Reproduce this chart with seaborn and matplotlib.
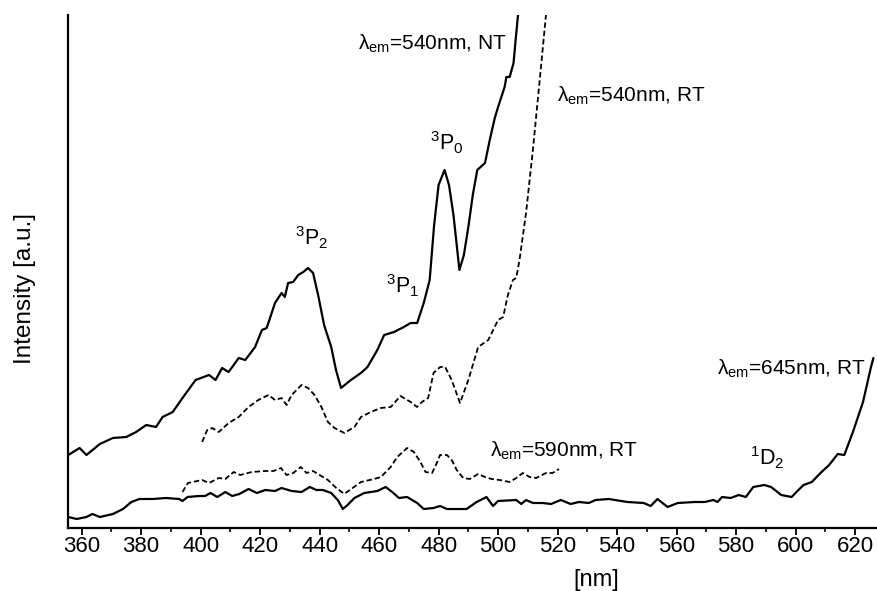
import matplotlib
matplotlib.use("Agg")
import matplotlib.pyplot as plt
import seaborn as sns
import pandas as pd

# ---------------- data ----------------
nt540_x = [355.5, 359.3, 361.6, 366.1, 370.5, 375.0, 378.3, 381.7, 385.0, 387.2, 390.6, 393.9,
           398.3, 402.8, 405.0, 407.2, 409.4, 412.8, 415.0, 418.3, 420.6, 422.2, 425.0, 427.2,
           428.3, 429.4, 431.1, 432.8, 434.5, 436.1, 437.8, 439.5, 441.5, 443.9, 445.5, 447.2,
           450.5, 453.9, 456.1, 459.4, 461.7, 465.0, 468.3, 470.6, 472.8, 475.0, 477.0, 478.5,
           480.0, 482.0, 483.5, 485.0, 487.0, 488.5, 490.0, 491.5, 493.0, 495.6, 497.2, 498.9,
           500.0, 502.2, 502.8, 503.9, 505.2, 505.9, 506.7, 507.3]
nt540_y = [73, 80, 73, 84, 90, 91, 96, 103, 101, 111, 116, 130,
           148, 153, 148, 160, 156, 170, 168, 181, 198, 200, 225, 235,
           231, 245, 246, 253, 256, 260, 255, 233, 203, 181, 158, 140,
           148, 155, 161, 178, 193, 196, 201, 205, 205, 225, 248, 303,
           343, 358, 343, 313, 258, 273, 301, 333, 358, 365, 388, 410,
           421, 441, 451, 451, 465, 488, 513, 535]

rt540_x = [400.5, 402.2, 403.9, 406.1, 409.4, 412.8, 416.1, 419.4, 422.8, 425.0, 427.2, 428.9,
           430.6, 433.9, 436.1, 438.3, 440.6, 442.8, 445.0, 448.3, 451.7, 453.9, 457.2, 460.6,
           463.9, 467.2, 470.6, 472.8, 474.4, 476.5, 478.3, 480.5, 482.2, 484.4, 487.2, 490.0,
           493.3, 496.7, 500.0, 501.7, 503.3, 505.0, 506.1, 507.2, 509.4, 511.7, 513.9, 516.1, 516.6]
rt540_y = [86, 98, 100, 96, 105, 111, 121, 128, 133, 128, 130, 123,
           133, 143, 140, 133, 121, 106, 100, 95, 101, 111, 116, 120,
           121, 132, 126, 121, 126, 130, 155, 161, 161, 148, 125, 148,
           181, 188, 208, 211, 233, 248, 250, 268, 315, 378, 445, 513, 535]

rt590_x = [393.9, 395.7, 400.5, 402.8, 406.1, 408.3, 411.1, 413.3, 417.2, 421.7, 424.5, 427.0,
           428.9, 431.1, 433.7, 435.6, 437.8, 440.0, 442.8, 445.6, 448.3, 451.1, 453.9, 458.3,
           460.6, 463.9, 466.1, 469.4, 471.7, 473.9, 475.6, 477.8, 479.4, 480.5, 482.8, 484.4,
           486.1, 488.3, 490.5, 493.3, 495.6, 497.8, 500.5, 503.9, 506.1, 508.3, 510.6, 512.8,
           516.1, 518.3, 520.5]
rt590_y = [36, 45, 48, 45, 50, 49, 56, 53, 56, 57, 57, 60,
           53, 55, 61, 55, 57, 53, 48, 40, 34, 40, 46, 49,
           51, 61, 71, 80, 76, 66, 56, 55, 65, 73, 73, 68,
           58, 50, 49, 54, 51, 49, 48, 46, 50, 55, 51, 50,
           55, 55, 59]

rt645_x = [355.5, 358.3, 361.6, 363.6, 366.1, 370.5, 373.9, 376.7, 379.4, 383.9, 388.3, 392.8,
           393.9, 395.6, 399.4, 401.5, 403.3, 405.6, 408.3, 410.6, 413.0, 416.1, 418.9, 421.7,
           425.0, 427.2, 430.6, 433.9, 436.7, 438.9, 441.1, 443.9, 446.1, 447.8, 449.4, 451.7,
           455.0, 459.4, 462.2, 464.4, 466.7, 469.4, 472.8, 475.0, 478.3, 480.5, 482.8, 489.4,
           492.8, 496.1, 498.3, 500.0, 506.1, 507.8, 509.4, 511.7, 515.0, 517.8, 521.1, 524.4,
           527.2, 530.5, 532.8, 537.2, 543.5, 549.0, 551.3, 553.6, 555.3, 557.0, 560.4, 566.1,
           569.5, 572.4, 573.8, 575.3, 578.2, 580.9, 583.3, 585.8, 589.5, 591.8, 595.2, 598.7,
           600.3, 602.7, 605.5, 608.4, 611.3, 614.2, 616.4, 619.3, 622.7, 625.3, 626.2]
rt645_y = [11, 9, 11, 14, 11, 14, 19, 26, 29, 29, 30, 29,
           27, 31, 32, 32, 35, 31, 36, 32, 34, 39, 35, 38,
           37, 40, 37, 36, 41, 38, 38, 35, 28, 19, 23, 30,
           35, 37, 41, 36, 30, 31, 25, 19, 20, 22, 19, 19,
           26, 31, 22, 27, 28, 24, 28, 25, 25, 24, 28, 24,
           26, 25, 28, 29, 26, 25, 22, 29, 25, 21, 25, 26,
           26, 28, 26, 31, 30, 33, 31, 41, 43, 41, 33, 31,
           36, 43, 46, 55, 63, 74, 73, 96, 126, 160, 170]

x_ticks = [360, 380, 400, 420, 440, 460, 480, 500, 520, 540, 560, 580, 600, 620]
x_label = "[nm]"
y_label = "Intensity [a.u.]"

# ---------------- style ----------------
sns.set_style("ticks")
plt.rcParams["font.family"] = ["Liberation Sans", "DejaVu Sans"]
plt.rcParams["mathtext.fontset"] = "custom"
plt.rcParams["mathtext.rm"] = "Liberation Sans"
plt.rcParams["mathtext.it"] = "Liberation Sans:italic"
plt.rcParams["mathtext.default"] = "regular"
for k in ("text.color", "axes.labelcolor", "xtick.color", "ytick.color", "axes.edgecolor"):
    plt.rcParams[k] = "black"

W, H = 877, 591
fig = plt.figure(figsize=(W / 100, H / 100), dpi=100)
ax = fig.add_axes([68 / W, (H - 528) / H, (W - 68) / W, (528 - 15) / H])

solid = dict(color="black", linewidth=1.6, estimator=None)
dashed = dict(color="black", linewidth=1.3, estimator=None, linestyle=(0, (3, 1.6)))

sns.lineplot(data=pd.DataFrame({"x": nt540_x, "y": nt540_y}), x="x", y="y", ax=ax, **solid)
sns.lineplot(data=pd.DataFrame({"x": rt540_x, "y": rt540_y}), x="x", y="y", ax=ax, **dashed)
sns.lineplot(data=pd.DataFrame({"x": rt590_x, "y": rt590_y}), x="x", y="y", ax=ax, **dashed)
sns.lineplot(data=pd.DataFrame({"x": rt645_x, "y": rt645_y}), x="x", y="y", ax=ax, **solid)

ax.set_xlim(355.4, 627.4)
ax.set_ylim(0, 513)
ax.set_xticks(x_ticks)
ax.set_xticks(list(range(370, 630, 20)), minor=True)
ax.set_yticks([])
ax.set_xlabel("")
ax.set_ylabel("")
for s in ("top", "right"):
    ax.spines[s].set_visible(False)
for s in ("left", "bottom"):
    ax.spines[s].set_linewidth(1.6)
    ax.spines[s].set_color("black")
ax.tick_params(axis="x", which="major", direction="out", length=5, width=1.3,
               labelsize=16, pad=1, colors="black")
ax.tick_params(axis="x", which="minor", direction="out", length=3, width=1.2)

ax.text((596 - 68) / (W - 68), -52 / 513, x_label, transform=ax.transAxes,
        ha="center", va="center", fontsize=17)
ax.text((25 - 68) / (W - 68), (528 - 288) / 513, y_label, transform=ax.transAxes,
        ha="center", va="center", rotation=90, fontsize=17.5)

fs = 15
ann = [
    (452.9, 478, "λ$_{em}$=540nm, NT", fs),
    (519.7, 426, "λ$_{em}$=540nm, RT", fs),
    (477.1, 378, "$^{3}$P$_{0}$", 15.5),
    (431.7, 283, "$^{3}$P$_{2}$", 15.5),
    (462.3, 235, "$^{3}$P$_{1}$", 15.5),
    (573.5, 153, "λ$_{em}$=645nm, RT", fs),
    (497.3, 71, "λ$_{em}$=590nm, RT", fs),
    (584.7, 63, "$^{1}$D$_{2}$", 15.5),
]
for x, y, t, f in ann:
    ax.text(x, y, t, ha="left", va="baseline", fontsize=f)

fig.savefig("out.png", dpi=100)
